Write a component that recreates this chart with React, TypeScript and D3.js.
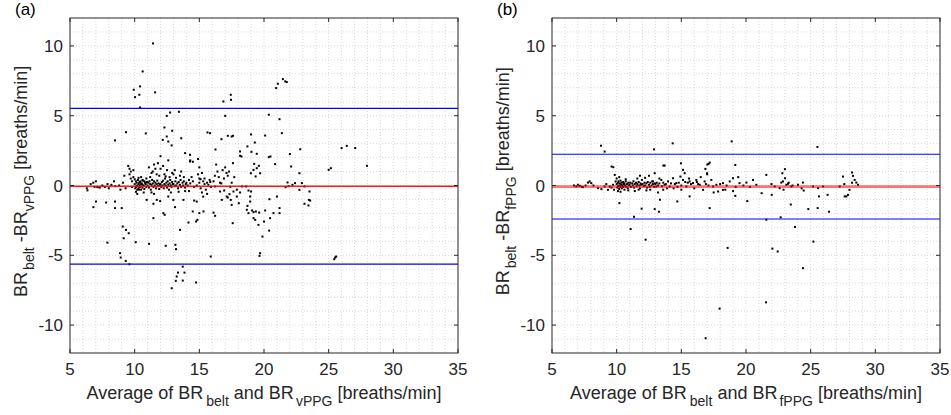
import React from 'react';
import * as d3 from 'd3';

// Bland-Altman: [mean, difference] in breaths/min
const vppgPoints: [number, number][] = [
  [6.3, -0.2], [6.35, -0.35], [6.6, 0.1], [6.8, 0.2], [6.9, -0.1], [7.0, 0.3], [7.1, -0.1], [7.2, -0.12],
  [7.3, -0.15], [7.5, 0.0], [7.7, -0.1], [7.9, 0.1], [8.0, -0.2], [8.2, 0.05], [8.4, 0.3], [8.5, -0.05],
  [8.8, 0.0], [8.9, -0.3], [9.1, 0.2], [9.2, 0.7], [9.3, -0.2], [9.5, 1.4], [9.6, 1.2], [9.7, 1.0],
  [9.6, 0.8], [9.7, 0.5], [9.8, 0.3], [9.8, -0.1], [9.9, 0.6], [9.9, 1.1],
  [10.0, 0.1], [10.05, -0.2], [10.1, 0.3], [10.1, -0.1], [10.15, 0.2], [10.2, 0.0], [10.2, -0.3], [10.25, 0.4],
  [10.3, 0.1], [10.3, -0.2], [10.35, 0.2], [10.4, 0.0], [10.4, -0.1], [10.45, 0.3], [10.5, 0.1], [10.5, -0.3],
  [10.55, 0.15], [10.6, 0.05], [10.6, -0.15], [10.65, 0.35], [10.7, 0.0], [10.75, -0.25], [10.8, 0.2], [10.85, 0.1],
  [10.9, -0.1], [10.95, 0.25], [10.0, 0.45], [10.1, -0.45], [10.3, 0.55], [10.5, 0.6], [10.7, -0.5], [10.2, -0.6],
  [10.9, 0.5], [10.4, 0.25], [10.6, 0.4], [10.15, -0.05], [10.35, -0.3], [10.75, 0.3],
  [11.0, 0.0], [11.05, 0.2], [11.1, -0.15], [11.15, 0.3], [11.2, 0.1], [11.25, -0.3], [11.3, 0.05], [11.35, 0.4],
  [11.4, 0.15], [11.45, -0.1], [11.5, 0.3], [11.55, 0.0], [11.6, 0.2], [11.65, -0.2], [11.7, 0.1], [11.75, 0.35],
  [11.8, -0.05], [11.85, 0.15], [11.9, -0.25], [11.95, 0.05], [11.2, 0.6], [11.4, 1.0], [11.5, 1.5], [11.3, 0.9],
  [11.7, 0.8], [11.6, 1.2], [11.9, 0.7], [11.1, 1.3], [11.8, 1.6], [11.5, -0.6], [11.3, -0.5], [12.0, 2.1],
  [12.0, 0.1], [12.05, -0.1], [12.1, 0.25], [12.15, 0.0], [12.2, 0.35], [12.25, -0.2], [12.3, 0.1], [12.35, 0.5],
  [12.4, 0.0], [12.45, 0.2], [12.5, -0.15], [12.55, 0.3], [12.6, 0.05], [12.65, -0.3], [12.7, 0.15], [12.75, 0.4],
  [12.8, 0.0], [12.85, -0.1], [12.9, 0.25], [12.95, 0.1], [12.3, 0.8], [12.5, 1.1], [12.7, 0.6], [12.2, 1.4],
  [12.6, 1.8], [12.4, 0.65], [12.9, 0.9], [12.8, -0.5],
  [13.0, 0.1], [13.1, -0.05], [13.15, 0.3], [13.2, 0.0], [13.3, 0.15], [13.35, -0.2], [13.4, 0.25], [13.5, 0.05],
  [13.55, 0.4], [13.6, -0.1], [13.7, 0.2], [13.75, 0.0], [13.8, 0.3], [13.9, -0.15], [13.95, 0.1], [13.2, 0.55],
  [13.5, 0.7], [13.8, 0.6], [13.1, 1.1], [13.6, 1.0], [13.4, -0.45], [13.9, -0.4],
  [14.0, 0.2], [14.1, 0.0], [14.2, 0.4], [14.3, 0.15], [14.5, 0.3], [14.6, -0.1], [14.8, 0.0], [15.0, 0.2],
  [15.1, -0.2], [15.3, 0.3], [15.4, 0.1], [15.5, -0.3], [15.6, 0.2], [15.7, 0.05], [15.8, 0.4], [15.9, -0.1],
  [15.4, 0.5], [15.2, 0.9], [15.0, 1.3], [15.1, 0.45], [14.4, 0.6], [14.9, 0.8], [14.2, -0.4], [15.6, -0.6],
  [15.2, -0.5], [15.85, 0.25], [15.3, -0.8], [14.5, 1.7], [14.3, 1.8], [13.0, 0.8], [12.0, 1.2], [14.9, 1.9],
  [15.0, 0.5],
  [16.1, 0.3], [16.2, 0.7], [16.4, 1.0], [16.6, 0.2], [16.8, 1.1], [16.9, 0.5], [17.0, 1.3], [17.1, 0.9],
  [17.2, 0.7], [17.3, 1.0], [17.4, -0.1], [17.5, 0.2], [17.7, 0.6], [17.9, -0.3], [16.5, 0.6], [17.6, 1.6],
  [16.3, 1.5], [16.7, 0.15],
  // scatter away from zero
  [11.42, 10.18], [10.62, 8.17], [9.93, 6.86], [10.03, 6.33], [10.42, 7.1], [10.36, 6.5], [11.58, 6.67],
  [10.42, 5.59], [10.86, 3.73], [9.33, 3.82], [8.48, 3.23], [12.48, 4.99], [12.74, 5.23], [12.3, 4.16],
  [12.17, 3.27], [12.48, 3.51], [12.6, 3.15], [12.86, 2.87], [12.9, 3.92], [13.42, 5.28], [13.6, 3.39],
  [13.9, 2.32], [14.28, 1.72], [14.28, 2.2],
  [16.86, 6.02], [17.43, 6.5], [17.45, 6.14], [17.0, 4.99], [17.5, 3.51], [17.6, 3.56], [17.2, 3.56],
  [15.63, 3.8], [15.83, 3.75], [16.71, 3.32], [16.25, 2.58],
  [20.94, 6.98], [21.07, 7.29], [21.46, 7.62], [21.64, 7.46], [21.76, 7.41],
  [20.37, 5.07], [21.2, 4.75], [21.38, 3.75], [20.09, 3.58], [19.0, 3.66], [19.29, 3.08], [18.72, 2.8],
  [19.03, 2.41], [18.15, 2.44], [18.26, 2.08], [18.15, 2.13], [19.44, 2.27], [20.5, 2.08], [20.37, 2.03],
  [20.86, 1.53], [22.0, 2.25], [22.8, 2.6], [22.1, 1.36], [22.74, 0.88], [19.24, 1.55], [19.44, 1.24],
  [19.7, 0.88], [18.98, 0.88], [19.19, 1.12], [19.35, 0.65], [19.6, 1.41],
  [25.0, 1.12], [25.17, 1.24], [26.0, 2.68], [26.4, 2.84], [27.05, 2.68], [27.96, 1.41],
  [21.82, 0.22], [22.74, -0.31], [23.13, -0.07], [23.52, -0.43], [23.47, -1.03], [23.57, -1.08],
  [23.13, -1.31], [23.44, -1.43], [21.67, -0.12], [22.93, 0.17], [22.4, 0.17], [22.2, 0.05], [21.9, -0.05],
  [25.5, -5.16], [25.58, -5.09], [25.43, -5.28],
  [19.7, -4.85], [19.65, -5.04], [19.88, -3.66], [19.57, -2.82], [20.0, -2.58], [20.4, -3.23], [20.47, -2.34],
  [20.09, -1.79], [20.73, -1.98], [21.2, -1.98], [21.2, -1.62], [21.0, -0.79], [20.42, -0.98],
  [18.67, -1.74], [18.8, -1.98], [18.93, -1.15], [19.08, -1.79], [19.19, -2.34], [19.32, -2.46], [19.19, -1.91],
  [18.72, -1.46], [18.93, -0.79], [19.0, -0.43], [19.37, -1.86], [19.63, -1.94], [18.8, -0.36], [18.31, -0.07],
  [18.62, -0.07], [18.05, -1.27], [18.15, -0.5], [17.9, -0.79], [17.64, -0.43], [17.43, -1.03], [17.2, -0.86],
  [17.33, -0.62], [17.5, -1.39], [17.58, -2.7], [17.12, -0.79], [16.74, -1.03], [16.92, -0.36], [16.6, -0.43],
  [16.22, -0.07], [16.22, -2.17], [16.1, -1.94], [15.88, -5.09], [15.32, -1.86], [15.0, -1.98], [14.85, -2.46],
  [14.75, -2.58], [14.6, -1.08], [14.8, -1.15], [14.49, -1.86], [14.16, -2.65],
  [14.75, -6.95], [13.72, -5.81], [13.85, -6.24], [13.72, -6.81], [13.25, -6.52], [13.18, -6.83], [13.35, -6.24],
  [12.86, -7.36], [13.51, -3.18], [13.15, -4.25], [13.2, -4.56], [12.4, -4.32], [11.11, -4.18], [11.45, -2.34],
  [10.08, -4.06], [9.15, -3.78], [9.08, -2.94], [9.33, -3.18], [9.54, -3.42], [8.87, -4.85], [8.92, -5.16],
  [9.31, -5.4], [9.59, -5.64], [7.89, -4.09], [8.48, -1.15], [8.48, -1.62], [9.0, -1.62], [7.79, -1.22],
  [7.01, -1.15], [6.81, -1.55],
  [11.45, -1.31], [11.71, -1.03], [11.97, -1.12], [12.22, -1.98], [12.32, -2.1], [12.6, -0.79], [13.12, -1.55],
  [12.99, -1.03], [13.77, -1.03], [10.93, -1.03],
];

const fppgPoints: [number, number][] = [
  [6.7, 0.0], [6.88, -0.07], [7.0, 0.05], [7.14, -0.02], [7.3, -0.1], [7.4, -0.12], [7.6, 0.0], [7.78, 0.21],
  [7.91, 0.29], [8.04, 0.17], [8.2, 0.0], [8.56, -0.19], [8.82, -0.26], [9.07, -0.07], [9.2, 0.1], [9.33, -0.31],
  [9.46, -0.07], [9.72, 0.05], [9.85, 0.76], [9.92, 0.29], [9.6, -0.15], [9.8, -0.3],
  [10.0, 0.1], [10.05, -0.15], [10.1, 0.2], [10.1, -0.05], [10.15, 0.3], [10.2, 0.0], [10.2, -0.25], [10.25, 0.15],
  [10.3, -0.1], [10.3, 0.35], [10.35, 0.05], [10.4, -0.2], [10.4, 0.2], [10.45, 0.0], [10.5, 0.25], [10.5, -0.1],
  [10.55, 0.1], [10.6, -0.3], [10.6, 0.15], [10.65, 0.0], [10.7, 0.3], [10.75, -0.1], [10.8, 0.1], [10.85, -0.2],
  [10.9, 0.2], [10.95, 0.0], [10.0, 0.5], [10.2, 0.6], [10.1, -0.4], [10.3, -0.45], [10.7, 0.45], [10.9, -0.35],
  [11.0, 0.05], [11.05, 0.2], [11.1, -0.1], [11.2, 0.15], [11.25, 0.0], [11.3, 0.3], [11.35, -0.15], [11.4, 0.1],
  [11.5, 0.2], [11.55, -0.05], [11.6, 0.1], [11.7, 0.25], [11.75, 0.0], [11.8, -0.2], [11.85, 0.15], [11.9, 0.05],
  [11.6, 0.5], [11.8, 0.7], [11.4, -0.4], [11.7, -0.3], [11.95, 0.4],
  [12.0, 0.1], [12.1, -0.05], [12.15, 0.2], [12.2, 0.0], [12.3, 0.15], [12.35, -0.15], [12.4, 0.25], [12.5, 0.05],
  [12.55, -0.1], [12.6, 0.2], [12.7, 0.0], [12.75, 0.3], [12.8, 0.1], [12.9, -0.1], [12.95, 0.15], [12.2, 0.55],
  [12.5, 0.7], [12.81, 0.29], [12.94, 0.88], [12.3, -0.35], [12.6, -0.3],
  [13.0, 0.1], [13.07, -0.07], [13.1, 0.2], [13.2, 0.0], [13.3, 0.15], [13.45, 0.4], [13.5, -0.05], [13.6, 0.2],
  [13.71, 0.05], [13.8, 0.1], [13.97, 0.29], [13.9, -0.2], [13.3, 0.5], [13.6, -0.3], [13.2, -0.5],
  [14.1, -0.07], [14.2, 0.15], [14.36, 0.52], [14.5, 0.1], [14.61, 0.17], [14.7, -0.1], [14.8, 0.2], [14.93, 0.64],
  [15.0, 0.0], [15.13, 0.4], [15.13, 1.12], [15.26, 0.88], [15.39, -0.07], [15.5, 0.2], [15.64, 0.29], [15.75, 0.1],
  [15.9, 0.17], [15.0, -0.3], [15.3, 0.25], [14.4, -0.2], [15.6, 0.5],
  [16.16, 0.4], [16.3, 0.1], [16.42, 0.05], [16.68, -0.31], [16.8, 0.29], [16.9, 0.1], [17.1, 0.0], [17.32, 0.4],
  [17.45, -0.07], [17.71, 0.05], [17.84, -0.43], [18.0, 0.1], [18.22, 0.17], [18.22, -0.31], [18.5, 0.0],
  [18.74, 0.29], [18.99, 0.52], [19.2, -0.1], [19.5, 0.17], [19.8, 0.0], [20.03, 0.21], [20.3, -0.1],
  [20.54, 0.4], [20.8, 0.05], [16.5, 0.6], [17.0, 0.8], [17.5, -0.5], [18.4, -0.3], [19.4, 0.6], [19.0, -0.4],
  [16.0, -0.2], [16.2, 0.25],
  [21.97, 0.1], [22.22, -0.07], [22.6, -0.19], [22.73, 0.21], [22.86, 0.29], [23.12, 0.05], [23.25, 0.12],
  [23.5, -0.07], [24.02, 0.05], [24.4, 0.21], [25.18, -0.07], [25.57, -0.19], [25.96, -0.07], [27.24, -0.07],
  [28.53, 0.21], [28.66, 0.05], [28.4, 0.4], [28.0, -0.31], [23.02, 0.52], [22.81, 0.88], [21.57, 0.76],
  [22.9, -0.3], [23.3, 0.2], [23.6, 0.0], [24.3, -0.2], [27.6, 0.1], [28.2, 0.2],
  // scatter away from zero
  [8.79, 2.85], [9.07, 2.43], [12.89, 2.59], [14.33, 3.02], [18.89, 3.16], [25.52, 2.76],
  [9.61, 1.36], [9.74, 1.31], [13.61, 1.43], [13.71, 1.43], [14.97, 1.59], [17.01, 1.5], [17.19, 1.64],
  [17.11, 1.55], [19.17, 1.47], [23.01, 1.17], [27.5, 0.64], [28.2, 0.93], [28.27, 0.69], [16.86, 1.19],
  [16.99, 0.88],
  [10.21, -1.26], [11.34, -2.24], [11.08, -3.12], [12.24, -3.88], [11.93, -1.66], [12.94, -1.69], [13.27, -1.88],
  [13.35, -1.02], [14.69, -1.14], [15.64, -0.78], [17.19, -1.62], [18.58, -4.47], [17.96, -8.82], [16.88, -10.94],
  [21.55, -8.37], [22.04, -4.52], [22.45, -4.73], [24.41, -5.92], [25.21, -4.02], [23.79, -2.97], [22.68, -2.28],
  [21.57, -2.45], [23.46, -1.36], [24.82, -1.69], [25.54, -1.62], [26.42, -1.88], [26.31, -0.67], [25.64, -0.78],
  [24.46, -0.36], [21.21, -0.55], [20.1, -1.12], [19.17, -0.74], [21.99, -0.67], [27.76, -0.78], [27.63, -0.78],
  [27.89, -0.67],
];

// mean bias and limits of agreement
const vppgLines = { mean: -0.05, upper: 5.53, lower: -5.63 };
const fppgLines = { mean: -0.08, upper: 2.24, lower: -2.4 };

const xTicks = [5, 10, 15, 20, 25, 30, 35];
const yTicks = [-10, -5, 0, 5, 10];

const FONT = 'Liberation Sans, Arial, sans-serif';

interface PanelProps {
  left: number;
  tag: string;
  sub: string;
  points: [number, number][];
  lines: { mean: number; upper: number; lower: number };
  meanWidth: number;
  meanOpacity: number;
}

const Panel: React.FC<PanelProps> = ({ left, tag, sub, points, lines, meanWidth, meanOpacity }) => {
  const top = 18;
  const w = 388;
  const h = 335;
  const x = d3.scaleLinear().domain([5, 35]).range([left, left + w]);
  const y = d3.scaleLinear().domain([-12, 12]).range([top + h, top]);
  const minorX = d3.range(6, 35, 1);
  const minorY = d3.range(-11, 12, 1);
  const axisColor = '#262626';

  return (
    <g>
      {/* dotted grid */}
      <g stroke="#cfcfcf" strokeWidth={0.8} strokeDasharray="1,2">
        {minorX.map((v) => (
          <line key={'gx' + v} x1={x(v)} x2={x(v)} y1={top} y2={top + h} />
        ))}
        {minorY.map((v) => (
          <line key={'gy' + v} x1={left} x2={left + w} y1={y(v)} y2={y(v)} />
        ))}
      </g>

      {/* data */}
      <g fill="#000">
        {points.map((p, i) => (
          <rect key={i} x={x(p[0]) - 1} y={y(p[1]) - 1} width={2} height={2} />
        ))}
      </g>

      {/* bias and limits */}
      <line x1={left} x2={left + w} y1={y(lines.upper)} y2={y(lines.upper)} stroke="#0000ff" strokeWidth={1.2} />
      <line x1={left} x2={left + w} y1={y(lines.lower)} y2={y(lines.lower)} stroke="#0000ff" strokeWidth={1.2} />
      <line x1={left} x2={left + w} y1={y(lines.mean)} y2={y(lines.mean)} stroke="#ff0000"
        strokeWidth={meanWidth} strokeOpacity={meanOpacity} />

      {/* box and ticks */}
      <rect x={left} y={top} width={w} height={h} fill="none" stroke={axisColor} strokeWidth={1} />
      <g stroke={axisColor} strokeWidth={1}>
        {xTicks.map((v) => (
          <g key={'tx' + v}>
            <line x1={x(v)} x2={x(v)} y1={top + h} y2={top + h - 4} />
            <line x1={x(v)} x2={x(v)} y1={top} y2={top + 4} />
          </g>
        ))}
        {yTicks.map((v) => (
          <g key={'ty' + v}>
            <line x1={left} x2={left + 4} y1={y(v)} y2={y(v)} />
            <line x1={left + w} x2={left + w - 4} y1={y(v)} y2={y(v)} />
          </g>
        ))}
      </g>

      <g fontFamily={FONT} fill="#262626">
        <g fontSize={17}>
          {xTicks.map((v) => (
            <text key={'lx' + v} x={x(v)} y={top + h + 22} textAnchor="middle">{v}</text>
          ))}
          {yTicks.map((v) => (
            <text key={'ly' + v} x={left - 7} y={y(v) + 6} textAnchor="end">{v}</text>
          ))}
        </g>

        <text x={x(20)} y={399} textAnchor="middle" fontSize={18}>
          Average of BR
          <tspan fontSize={14} dx={3} dy={7}>belt</tspan>
          <tspan dy={-7}> and BR</tspan>
          <tspan fontSize={14} dx={2} dy={7}>{sub}</tspan>
          <tspan dy={-7}> [breaths/min]</tspan>
        </text>

        <text transform={`translate(${left - 43},${y(0.3)}) rotate(-90)`} textAnchor="middle" fontSize={18}>
          BR
          <tspan fontSize={14} dx={2} dy={7}>belt</tspan>
          <tspan dy={-7}> -BR</tspan>
          <tspan fontSize={14} dy={7}>{sub}</tspan>
          <tspan dy={-7}> [breaths/min]</tspan>
        </text>

        <text x={left - 55} y={15} fill="#000" fontSize={17}>{tag}</text>
      </g>
    </g>
  );
};

export default function App() {
  return (
    <svg width={951} height={415} style={{ position: 'absolute', left: 0, top: 0, background: '#fff' }}>
      <rect width={951} height={415} fill="#fff" />
      <Panel left={70} tag="(a)" sub="vPPG" points={vppgPoints} lines={vppgLines} meanWidth={1.6} meanOpacity={0.9} />
      <Panel left={552} tag="(b)" sub="fPPG" points={fppgPoints} lines={fppgLines} meanWidth={2.6} meanOpacity={0.55} />
    </svg>
  );
}
